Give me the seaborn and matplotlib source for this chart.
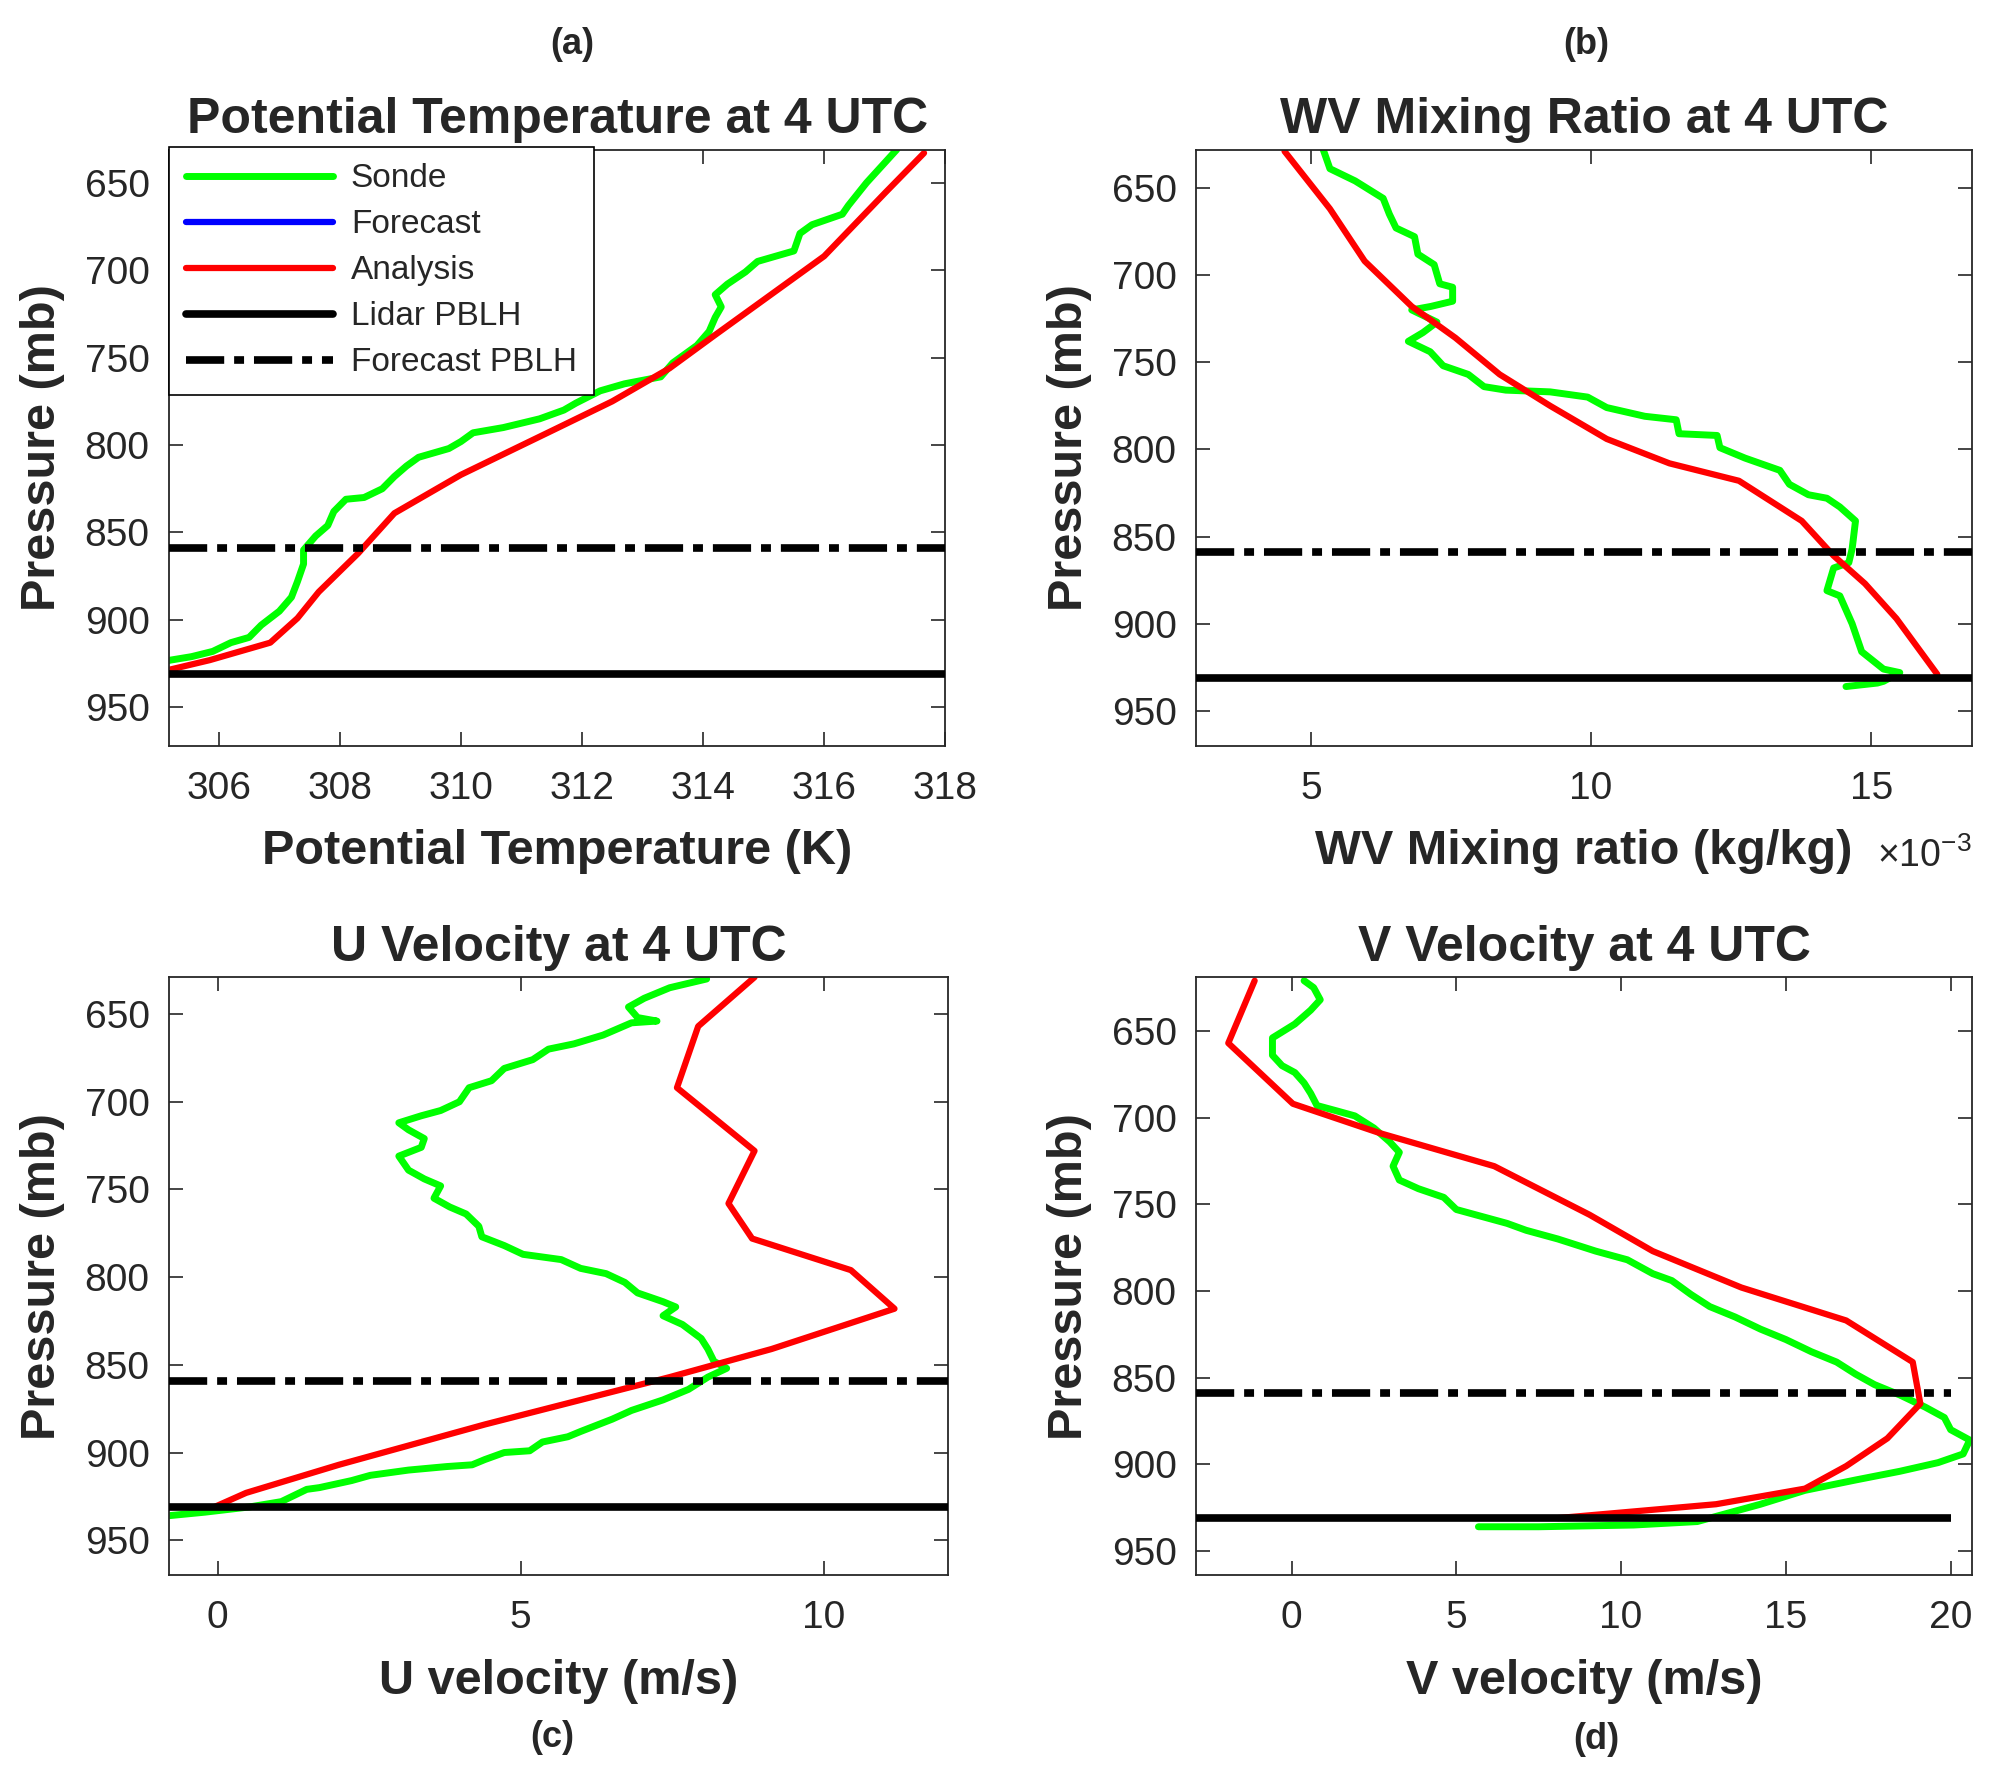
import matplotlib
matplotlib.use("Agg")
import matplotlib.pyplot as plt
from matplotlib.lines import Line2D
import pandas as pd
import seaborn as sns

# pressure levels in mb
lidar_pblh = 931
forecast_pblh = 859

# (a) potential temperature (K)
theta_sonde_p = [631, 650, 663, 668, 674, 679, 689, 695, 701, 708, 714, 721,
                 727, 735, 743, 753, 761, 765, 769, 776, 780, 785, 790, 793,
                 798, 802, 807, 812, 818, 825, 830, 831, 838, 846, 852, 860,
                 868, 878, 887, 895, 903, 910, 913, 918, 921, 923, 928, 936]
theta_sonde = [317.2, 316.7, 316.4, 316.3, 315.8, 315.6, 315.5, 314.9, 314.7,
               314.4, 314.2, 314.3, 314.2, 314.1, 313.9, 313.5, 313.3, 312.7,
               312.3, 311.9, 311.7, 311.3, 310.7, 310.2, 310.0, 309.8, 309.3,
               309.1, 308.9, 308.7, 308.4, 308.1, 307.9, 307.8, 307.6, 307.4,
               307.4, 307.3, 307.2, 307.0, 306.7, 306.5, 306.2, 305.9, 305.55,
               305.2, 304.6, 303.9]
theta_anl_p = [633, 656, 692, 717, 737, 756, 775, 791, 817, 839, 862, 884,
               899, 913, 923, 930]
theta_anl = [317.65, 317.0, 316.0, 315.0, 314.2, 313.45, 312.5, 311.55, 310.0,
             308.9, 308.3, 307.65, 307.3, 306.85, 305.85, 305.0]

# (b) water vapour mixing ratio (x 1e-3 kg/kg)
wv_sonde_p = [628, 639, 646, 656, 665, 673, 678, 688, 694, 705, 707, 715, 718,
              720, 727, 733, 738, 744, 752, 757, 764, 766, 767, 770, 776, 781,
              783, 791, 792, 799, 805, 812, 820, 826, 828, 833, 841, 857, 865,
              868, 881, 884, 900, 916, 926, 928, 933, 934, 936]
wv_sonde = [5.22, 5.34, 5.79, 6.29, 6.4, 6.52, 6.85, 6.91, 7.2, 7.3, 7.53,
            7.53, 7.14, 6.8, 7.25, 7.0, 6.74, 7.13, 7.36, 7.81, 8.09, 8.48,
            9.27, 9.94, 10.28, 10.96, 11.52, 11.57, 12.25, 12.3, 12.75, 13.37,
            13.54, 13.88, 14.21, 14.44, 14.72, 14.66, 14.6, 14.33, 14.21,
            14.44, 14.66, 14.83, 15.22, 15.51, 15.22, 15.11, 14.55]
wv_anl_p = [629, 662, 692, 718, 736, 757, 775, 794, 808, 818, 841, 861, 877,
            897, 929]
wv_anl = [4.53, 5.34, 5.96, 6.8, 7.58, 8.37, 9.27, 10.28, 11.4, 12.64, 13.76,
          14.33, 14.89, 15.45, 16.18]

# (c) U velocity (m/s)
u_sonde_p = [630, 635, 641, 646, 652, 654, 655, 662, 667, 670, 676, 681, 688,
             692, 700, 705, 708, 712, 716, 721, 726, 731, 739, 744, 748, 755,
             760, 764, 771, 777, 782, 787, 790, 795, 798, 803, 809, 814, 817,
             822, 827, 835, 841, 848, 852, 857, 864, 870, 876, 881, 888, 891,
             894, 899, 900, 904, 907, 908, 910, 913, 916, 920, 921, 928, 931,
             934, 936]
u_sonde = [8.07, 7.46, 7.04, 6.78, 6.93, 7.25, 6.83, 6.36, 5.88, 5.46, 5.2,
           4.73, 4.52, 4.15, 3.99, 3.68, 3.36, 2.99, 3.15, 3.41, 3.36, 2.99,
           3.15, 3.41, 3.68, 3.57, 3.83, 4.1, 4.31, 4.36, 4.73, 5.04, 5.67,
           5.99, 6.41, 6.72, 6.93, 7.35, 7.56, 7.35, 7.67, 7.98, 8.09, 8.19,
           8.4, 8.09, 7.77, 7.35, 6.83, 6.51, 5.99, 5.78, 5.36, 5.15, 4.73,
           4.41, 4.2, 3.78, 3.15, 2.52, 2.21, 1.68, 1.47, 1.05, 0.53, -0.21,
           -0.8]
u_anl_p = [629, 657, 692, 728, 758, 778, 796, 818, 841, 857, 884, 907, 923,
           931]
u_anl = [8.86, 7.93, 7.58, 8.86, 8.43, 8.82, 10.45, 11.17, 9.14, 7.46, 4.41,
         2.0, 0.47, -0.05]

# (d) V velocity (m/s)
v_sonde_p = [621, 625, 632, 638, 646, 654, 664, 670, 674, 680, 686, 693, 696,
             699, 706, 714, 720, 728, 736, 741, 746, 753, 757, 761, 765, 770,
             777, 782, 790, 794, 802, 809, 815, 822, 828, 835, 841, 848, 854,
             860, 867, 873, 880, 886, 894, 899, 904, 909, 915, 923, 928, 933,
             935, 936, 936]
v_sonde = [0.38, 0.67, 0.87, 0.58, 0.1, -0.58, -0.58, -0.29, 0.1, 0.38, 0.58,
           0.77, 1.35, 1.92, 2.5, 2.98, 3.27, 3.08, 3.27, 3.85, 4.62, 5.0,
           5.77, 6.54, 7.12, 8.08, 9.23, 10.19, 10.96, 11.54, 12.12, 12.69,
           13.46, 14.23, 15.0, 15.77, 16.54, 17.12, 17.69, 18.46, 19.23,
           19.81, 20.0, 20.58, 20.38, 19.62, 18.46, 17.12, 15.58, 14.23,
           13.27, 12.31, 10.38, 7.5, 5.67]
v_anl_p = [621, 657, 692, 709, 728, 756, 777, 798, 817, 841, 865, 885, 901,
           914, 923, 931]
v_anl = [-1.12, -1.92, 0.04, 2.69, 6.15, 9.04, 10.96, 13.65, 16.83, 18.85,
         19.08, 18.08, 16.83, 15.58, 12.88, 8.08]

SONDE_COLOR = "#00ff00"
ANL_COLOR = "#ff0000"
FCST_COLOR = "#0000ff"
DASHDOT = (0, (5, 1.3, 1.3, 1.3))
INK = "#262626"

sns.set_style("ticks")
plt.rcParams["font.family"] = ["Liberation Sans", "DejaVu Sans"]
plt.rcParams["mathtext.fontset"] = "custom"
plt.rcParams["mathtext.rm"] = "Liberation Sans"
plt.rcParams["axes.edgecolor"] = INK
plt.rcParams["xtick.color"] = INK
plt.rcParams["ytick.color"] = INK


def draw_panel(ax, sonde_p, sonde, anl_p, anl, title, xlabel, xlim, ylim,
               xticks, line_end=None):
    """Draws one sounding profile panel."""
    sonde_df = pd.DataFrame({"p": sonde_p, "val": sonde})
    anl_df = pd.DataFrame({"p": anl_p, "val": anl})
    sns.lineplot(data=sonde_df, x="val", y="p", orient="y", sort=False,
                 estimator=None, color=SONDE_COLOR, lw=5, ax=ax)
    sns.lineplot(data=anl_df, x="val", y="p", orient="y", sort=False,
                 estimator=None, color=ANL_COLOR, lw=4.5, ax=ax)

    x_end = xlim[1] if line_end is None else line_end
    ax.hlines(lidar_pblh, xlim[0], x_end, color="k", lw=5.5, zorder=3)
    ax.hlines(forecast_pblh, xlim[0], x_end, color="k", lw=5.5,
              linestyles=[DASHDOT], zorder=3)

    ax.set_xlim(xlim)
    ax.set_ylim(ylim)
    ax.set_xticks(xticks)
    ax.set_yticks([650, 700, 750, 800, 850, 900, 950])
    ax.tick_params(direction="in", top=True, right=True, length=10,
                   width=1.2, labelsize=28, pad=14)
    ax.tick_params(axis="x", pad=18)
    for spine in ax.spines.values():
        spine.set_linewidth(1.3)
        spine.set_visible(True)

    ax.set_title(title, fontsize=36, fontweight="bold", pad=12)
    ax.set_xlabel(xlabel, fontsize=35, fontweight="bold", labelpad=16,
                  color=INK)
    ax.set_ylabel("Pressure (mb)", fontsize=35, fontweight="bold",
                  labelpad=14, color=INK)


fig = plt.figure(figsize=(19.95, 17.8), dpi=100)
ax_a = fig.add_axes([0.0848, 0.581, 0.389, 0.335])
ax_b = fig.add_axes([0.5995, 0.581, 0.389, 0.335])
ax_c = fig.add_axes([0.0848, 0.115, 0.3903, 0.336])
ax_d = fig.add_axes([0.5995, 0.115, 0.389, 0.336])

draw_panel(ax_a, theta_sonde_p, theta_sonde, theta_anl_p, theta_anl,
           "Potential Temperature at 4 UTC", "Potential Temperature (K)",
           (305.18, 318.0), (972, 631), [306, 308, 310, 312, 314, 316, 318])
draw_panel(ax_b, wv_sonde_p, wv_sonde, wv_anl_p, wv_anl,
           "WV Mixing Ratio at 4 UTC", "WV Mixing ratio (kg/kg)",
           (2.95, 16.8), (970, 628), [5, 10, 15])
draw_panel(ax_c, u_sonde_p, u_sonde, u_anl_p, u_anl,
           "U Velocity at 4 UTC", "U velocity (m/s)",
           (-0.8, 12.05), (970, 629), [0, 5, 10])
draw_panel(ax_d, v_sonde_p, v_sonde, v_anl_p, v_anl,
           "V Velocity at 4 UTC", "V velocity (m/s)",
           (-2.9, 20.65), (964, 619), [0, 5, 10, 15, 20], line_end=20)

# MATLAB style exponent after the x label
ax_b.text(1.0, -0.185, r"×10$^{-3}$", transform=ax_b.transAxes, ha="right",
          va="center", fontsize=27, color=INK)

handles = [
    Line2D([], [], color=SONDE_COLOR, lw=5),
    Line2D([], [], color=FCST_COLOR, lw=4.5),
    Line2D([], [], color=ANL_COLOR, lw=4.5),
    Line2D([], [], color="k", lw=5.5),
    Line2D([], [], color="k", lw=5.5, ls=DASHDOT),
]
labels = ["Sonde", "Forecast", "Analysis", "Lidar PBLH", "Forecast PBLH"]
leg = ax_a.legend(handles, labels, loc="upper left",
                  bbox_to_anchor=(0.0, 1.005), borderaxespad=0, fontsize=24,
                  frameon=True, fancybox=False, framealpha=1,
                  edgecolor="k", handlelength=4.4, labelspacing=0.45,
                  borderpad=0.5, handletextpad=0.55)
leg.get_frame().set_linewidth(1.2)

# panel tags
fig.text(0.287, 0.975, "(a)", ha="center", va="center", fontsize=26,
         fontweight="bold")
fig.text(0.795, 0.975, "(b)", ha="center", va="center", fontsize=26,
         fontweight="bold")
fig.text(0.277, 0.024, "(c)", ha="center", va="center", fontsize=26,
         fontweight="bold")
fig.text(0.800, 0.023, "(d)", ha="center", va="center", fontsize=26,
         fontweight="bold")

fig.savefig("out.png", dpi=100)
